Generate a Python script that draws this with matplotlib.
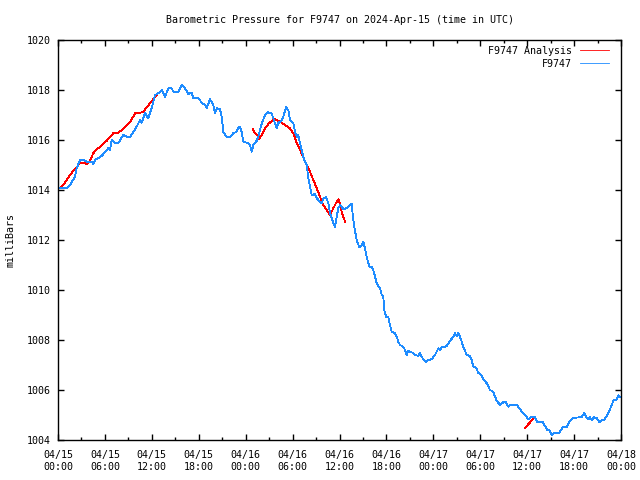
import numpy as np
import matplotlib
matplotlib.use("Agg")
import matplotlib.pyplot as plt
from matplotlib.ticker import MultipleLocator

# DATA - hours since 2024-04-15 00:00 UTC, pressure in mbar
obs_hours = [0.0, 0.26, 1.11, 1.53, 2.17, 2.39, 2.81, 3.24, 3.67, 4.31, 4.51, 4.73, 5.15, 5.59,
             6.01, 6.43, 6.65, 6.87, 7.29, 7.71, 8.35, 8.79, 9.21, 9.63, 10.06, 10.49, 10.70,
             11.13, 11.55, 11.98, 12.19, 12.41, 12.83, 13.26, 13.68, 14.11, 14.54, 14.75, 15.39,
             15.82, 16.24, 16.66, 17.10, 17.30, 17.94, 18.16, 18.38, 18.80, 19.02, 19.44, 19.86,
             20.08, 20.30, 20.72, 20.94, 21.14, 21.58, 22.00, 22.42, 22.85, 23.06, 23.28, 23.49,
             23.70, 24.34, 24.56, 24.77, 24.98, 25.41, 25.62, 25.83, 26.05, 26.47, 26.90, 27.33,
             27.53, 27.75, 27.97, 28.17, 28.61, 28.81, 29.16, 29.45, 29.67, 30.09, 30.31, 30.53,
             30.73, 30.95, 31.37, 31.59, 31.81, 32.01, 32.23, 32.45, 32.87, 33.09, 33.51, 33.73,
             33.93, 34.28, 34.57, 34.79, 35.00, 35.21, 35.43, 35.64, 35.85, 36.07, 36.49, 36.92,
             37.34, 37.56, 37.69, 37.89, 38.20, 38.53, 38.84, 39.05, 39.26, 39.48, 39.81, 40.12,
             40.32, 40.54, 40.76, 40.96, 41.18, 41.40, 41.60, 41.73, 41.95, 42.24, 42.46, 42.68,
             43.10, 43.32, 43.52, 43.74, 44.16, 44.38, 44.60, 44.80, 45.02, 45.36, 45.66, 46.08,
             46.30, 46.51, 46.72, 47.06, 47.36, 47.79, 48.21, 48.64, 48.85, 49.07, 49.49, 49.71,
             50.13, 50.56, 50.77, 50.99, 51.19, 51.41, 51.63, 51.83, 52.27, 52.69, 52.91, 53.11,
             53.46, 53.75, 54.19, 54.39, 54.83, 55.25, 55.67, 55.89, 56.11, 56.53, 56.95, 57.30,
             57.59, 57.81, 58.66, 58.87, 59.30, 59.72, 60.15, 60.49, 61.00, 61.30, 61.99, 62.28,
             62.58, 62.83, 63.14, 63.56, 64.11, 64.55, 65.06, 65.39, 65.90, 66.98, 67.31, 67.62,
             67.82, 68.04, 68.26, 68.55, 68.90, 69.23, 69.54, 69.83, 70.17, 70.60, 71.02, 71.45,
             71.66, 71.96]
obs_mbar = [1014.05, 1014.07, 1014.07, 1014.20, 1014.53, 1014.87, 1015.20, 1015.20, 1015.13,
            1015.13, 1015.04, 1015.20, 1015.27, 1015.36, 1015.53, 1015.67, 1015.60, 1016.00,
            1015.87, 1015.87, 1016.20, 1016.13, 1016.13, 1016.33, 1016.53, 1016.80, 1016.69,
            1017.07, 1016.87, 1017.27, 1017.53, 1017.80, 1017.87, 1018.00, 1017.73, 1018.07,
            1018.07, 1017.93, 1017.93, 1018.20, 1018.07, 1017.84, 1017.89, 1017.67, 1017.67,
            1017.60, 1017.47, 1017.40, 1017.27, 1017.63, 1017.40, 1017.09, 1017.27, 1017.23,
            1016.93, 1016.33, 1016.11, 1016.11, 1016.27, 1016.33, 1016.51, 1016.51, 1016.33,
            1015.93, 1015.87, 1015.80, 1015.53, 1015.80, 1015.97, 1016.13, 1016.40, 1016.64,
            1017.00, 1017.11, 1017.07, 1016.87, 1016.67, 1016.47, 1016.67, 1016.80, 1016.93,
            1017.31, 1017.20, 1016.80, 1016.67, 1016.33, 1016.13, 1016.20, 1015.87, 1015.33,
            1015.13, 1015.00, 1014.47, 1014.13, 1013.80, 1013.84, 1013.67, 1013.53, 1013.47,
            1013.67, 1013.71, 1013.47, 1013.07, 1012.87, 1012.67, 1012.51, 1012.93, 1013.27,
            1013.40, 1013.24, 1013.27, 1013.40, 1013.44, 1013.00, 1012.53, 1012.00, 1011.71,
            1011.80, 1011.93, 1011.67, 1011.33, 1010.93, 1010.91, 1010.80, 1010.53, 1010.27,
            1010.16, 1010.07, 1009.80, 1009.73, 1009.20, 1008.93, 1008.91, 1008.60, 1008.33,
            1008.27, 1008.13, 1007.93, 1007.80, 1007.73, 1007.60, 1007.40, 1007.57, 1007.53,
            1007.49, 1007.40, 1007.37, 1007.49, 1007.33, 1007.23, 1007.13, 1007.20, 1007.23,
            1007.40, 1007.67, 1007.60, 1007.71, 1007.73, 1007.77, 1007.97, 1008.13, 1008.27,
            1008.16, 1008.29, 1008.13, 1007.93, 1007.73, 1007.40, 1007.36, 1007.20, 1006.93,
            1006.89, 1006.69, 1006.56, 1006.43, 1006.27, 1006.00, 1005.93, 1005.73, 1005.57,
            1005.40, 1005.51, 1005.51, 1005.33, 1005.40, 1005.40, 1005.33, 1005.13, 1005.00,
            1004.83, 1004.91, 1004.91, 1004.72, 1004.72, 1004.56, 1004.40, 1004.40, 1004.20,
            1004.29, 1004.29, 1004.51, 1004.51, 1004.72, 1004.89, 1004.91, 1005.09, 1004.87,
            1004.83, 1004.91, 1004.80, 1004.91, 1004.87, 1004.71, 1004.80, 1004.80, 1004.96,
            1005.23, 1005.57, 1005.63, 1005.79, 1005.71]

# analysis: three separate runs, split by NaN
ana_hours = [0.26, 0.68, 1.11, 1.53, 1.96, 2.39, 2.81, 3.45, 3.67, 4.09, 4.51, 4.95, 5.37, 5.79,
             6.23, 6.65, 7.07, 7.71, 8.15, 8.57, 9.21, 9.63, 9.85, 10.49, 10.91, 11.34, 11.77,
             12.19, 12.62, 12.83, np.nan,
             24.90, 25.19, 25.49, 25.71, 26.05, 26.47, 26.90, 27.33, 27.75, 27.97, 28.39, 28.81,
             29.25, 29.67, 30.09, 30.31, 30.53, 30.95, 31.37, 31.81, 32.23, 32.65, 33.09, 33.51,
             33.93, 34.36, 34.79, 35.21, 35.64, 35.90, 36.07, 36.28, 36.49, 36.74, np.nan,
             59.72, 60.78]
ana_mbar = [1014.07, 1014.20, 1014.40, 1014.60, 1014.77, 1014.91, 1015.09, 1015.07, 1015.04,
            1015.17, 1015.47, 1015.63, 1015.71, 1015.84, 1015.97, 1016.13, 1016.27, 1016.29,
            1016.40, 1016.53, 1016.73, 1016.93, 1017.07, 1017.09, 1017.13, 1017.31, 1017.47,
            1017.63, 1017.80, 1017.89, np.nan,
            1016.43, 1016.29, 1016.20, 1016.03, 1016.20, 1016.47, 1016.64, 1016.76, 1016.84,
            1016.80, 1016.73, 1016.64, 1016.56, 1016.47, 1016.27, 1016.07, 1015.87, 1015.60,
            1015.31, 1015.00, 1014.73, 1014.40, 1014.07, 1013.73, 1013.40, 1013.20, 1013.00,
            1013.27, 1013.53, 1013.63, 1013.40, 1013.13, 1012.93, 1012.71, np.nan,
            1004.49, 1004.84]

tick_days = ["04/15", "04/15", "04/15", "04/15", "04/16", "04/16", "04/16", "04/16",
             "04/17", "04/17", "04/17", "04/17", "04/18"]
tick_times = ["00:00", "06:00", "12:00", "18:00"] * 3 + ["00:00"]

FONT = "DejaVu Sans Mono"
FS = 7.2
plt.rcParams["font.family"] = FONT
plt.rcParams["font.size"] = FS

fig = plt.figure(figsize=(6.4, 4.8), dpi=100)
ax = fig.add_axes([58 / 640, 40 / 480, 563 / 640, 400 / 480])

# thin aliased lines, like the gnuplot png
ax.plot(ana_hours, ana_mbar, color="#ff0000", lw=0.6, antialiased=False, label="F9747 Analysis")
ax.plot(obs_hours, obs_mbar, color="#1e8cff", lw=0.6, antialiased=False, label="F9747")

ax.set_xlim(0, 72)
ax.set_ylim(1004, 1020)
ax.set_xticks(np.arange(0, 73, 6))
ax.set_xticklabels([d + "\n" + t for d, t in zip(tick_days, tick_times)], linespacing=1.25)
ax.xaxis.set_minor_locator(MultipleLocator(3))
ax.set_yticks(np.arange(1004, 1021, 2))

ax.tick_params(which="both", direction="in", top=True, right=True, color="black", width=1.0)
ax.tick_params(which="major", length=4.5)
ax.tick_params(which="minor", length=2.5)
ax.tick_params(axis="x", pad=7)
ax.tick_params(axis="y", pad=5)
for s in ax.spines.values():
    s.set_linewidth(1.0)

ax.set_ylabel("milliBars", fontsize=FS)
ax.yaxis.set_label_coords(-0.075, 0.5)
ax.set_title("Barometric Pressure for F9747 on 2024-Apr-15 (time in UTC)", fontsize=FS, pad=12)

ax.legend(loc="upper right", bbox_to_anchor=(0.986, 0.995), frameon=False, markerfirst=False,
          handlelength=2.9, handletextpad=0.8, labelspacing=0.3, borderaxespad=0.0,
          fontsize=FS)

fig.savefig("out.png", dpi=100)
